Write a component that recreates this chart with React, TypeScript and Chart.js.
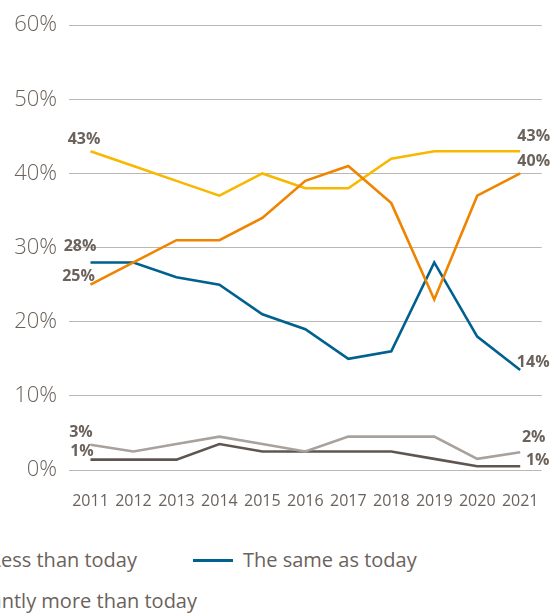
import React, { useEffect, useRef } from 'react';
import { Chart, registerables } from 'chart.js';

Chart.register(...registerables);

// ---- data ----
const years = ['2011', '2012', '2013', '2014', '2015', '2016', '2017', '2018', '2019', '2020', '2021'];
const seriesNames = [
  'Significantly less than today',
  'Less than today',
  'The same as today',
  'More than today',
  'Significantly more than today',
];
const sigLess = [25, 28, 31, 31, 34, 39, 41, 36, 23, 37, 40];
const less = [43, 41, 39, 37, 40, 38, 38, 42, 43, 43, 43];
const same = [28, 28, 26, 25, 21, 19, 15, 16, 28, 18, 13.5];
const more = [3.4, 2.5, 3.5, 4.5, 3.5, 2.5, 4.5, 4.5, 4.5, 1.5, 2.4];
const sigMore = [1.4, 1.4, 1.4, 3.5, 2.5, 2.5, 2.5, 2.5, 1.5, 0.5, 0.5];
const yTicks = [0, 10, 20, 30, 40, 50, 60];

// ---- styles ----
const FONT = '"Open Sans", sans-serif';
const TEXT = '#6b625c';
const GRID = '#bcb7b2';
const colors = ['#ef8400', '#f8b800', '#00608f', '#a8a19c', '#5f5652'];
// label offsets [start dx, start dy, end dx, end dy] relative to the first/last point
const labelOffsets = [
  [-12, -8, 13.5, -11.7],
  [-6.5, -11.5, 13.5, -14.5],
  [-10.5, -16, 13, -7.7],
  [-9.5, -12.2, 13.5, -14.7],
  [-8.5, -8, 17.5, -6.3],
];

const seriesData = [sigLess, less, same, more, sigMore];

const endLabels = {
  id: 'endLabels',
  afterDatasetsDraw(chart: any) {
    const ctx = chart.ctx;
    ctx.save();
    ctx.font = `bold 16px ${FONT}`;
    ctx.fillStyle = TEXT;
    ctx.textAlign = 'center';
    ctx.textBaseline = 'middle';
    chart.data.datasets.forEach((ds: any, i: number) => {
      const meta = chart.getDatasetMeta(i);
      const pts = meta.data;
      const first = pts[0];
      const last = pts[pts.length - 1];
      const off = labelOffsets[i];
      const v0 = ds.data[0];
      const v1 = ds.data[ds.data.length - 1];
      ctx.fillText(Math.round(v0) + '%', first.x + off[0], first.y + off[1]);
      ctx.fillText(Math.round(v1) + '%', last.x + off[2], last.y + off[3]);
    });
    ctx.restore();
  },
};

function LegendItem({ color, label }: { color: string; label: string }) {
  return (
    <div style={{ display: 'flex', alignItems: 'center', whiteSpace: 'nowrap' }}>
      <div style={{ width: 40, height: 3, background: color, marginRight: 10, marginTop: 1 }} />
      <span style={{ lineHeight: '20px' }}>{label}</span>
    </div>
  );
}

export default function App() {
  const ref = useRef<HTMLCanvasElement>(null);

  useEffect(() => {
    if (!ref.current) return;
    const chart = new Chart(ref.current, {
      type: 'line',
      data: {
        labels: years,
        datasets: seriesData.map((d, i) => ({
          label: seriesNames[i],
          data: d,
          borderColor: colors[i],
          backgroundColor: colors[i],
          borderWidth: 2.6,
          pointRadius: 0,
          tension: 0,
          fill: false,
        })),
      },
      options: {
        animation: false,
        responsive: false,
        layout: { padding: { top: 24, right: 11, left: 0, bottom: 0 } },
        plugins: {
          legend: { display: false },
          tooltip: { enabled: false },
        },
        scales: {
          x: {
            offset: true,
            grid: { display: false },
            border: { display: false },
            ticks: {
              autoSkip: false,
              maxRotation: 0,
              minRotation: 0,
              color: TEXT,
              padding: 14,
              font: { family: FONT, size: 16 },
            },
            afterFit: (s: any) => {
              s.height = 50;
            },
          },
          y: {
            min: yTicks[0],
            max: yTicks[yTicks.length - 1],
            grid: { color: GRID, lineWidth: 1, drawTicks: false },
            border: { display: false },
            ticks: {
              stepSize: 10,
              padding: 12,
              color: TEXT,
              font: { family: FONT, size: 22, weight: '300' },
              callback: (v: any) => v + '%',
            },
            afterFit: (s: any) => {
              s.width = 69;
            },
          },
        },
      },
      plugins: [endLabels],
    } as any);
    return () => chart.destroy();
  }, []);

  const legendText: React.CSSProperties = {
    position: 'absolute',
    display: 'flex',
    gap: 56,
    fontFamily: FONT,
    fontSize: 20,
    color: TEXT,
    whiteSpace: 'nowrap',
  };

  return (
    <div
      style={{
        position: 'absolute',
        left: 0,
        top: 0,
        width: 553,
        height: 614,
        overflow: 'hidden',
        background: '#ffffff',
      }}
    >
      <canvas ref={ref} width={553} height={520} style={{ position: 'absolute', left: 0, top: 0 }} />
      <div style={{ ...legendText, right: 553 - 137, top: 550 }}>
        <LegendItem color={colors[0]} label={seriesNames[0]} />
        <LegendItem color={colors[1]} label={seriesNames[1]} />
      </div>
      <div style={{ ...legendText, left: 193, top: 550 }}>
        <LegendItem color={colors[2]} label={seriesNames[2]} />
      </div>
      <div style={{ ...legendText, right: 553 - 197, top: 591 }}>
        <LegendItem color={colors[3]} label={seriesNames[3]} />
        <LegendItem color={colors[4]} label={seriesNames[4]} />
      </div>
    </div>
  );
}
